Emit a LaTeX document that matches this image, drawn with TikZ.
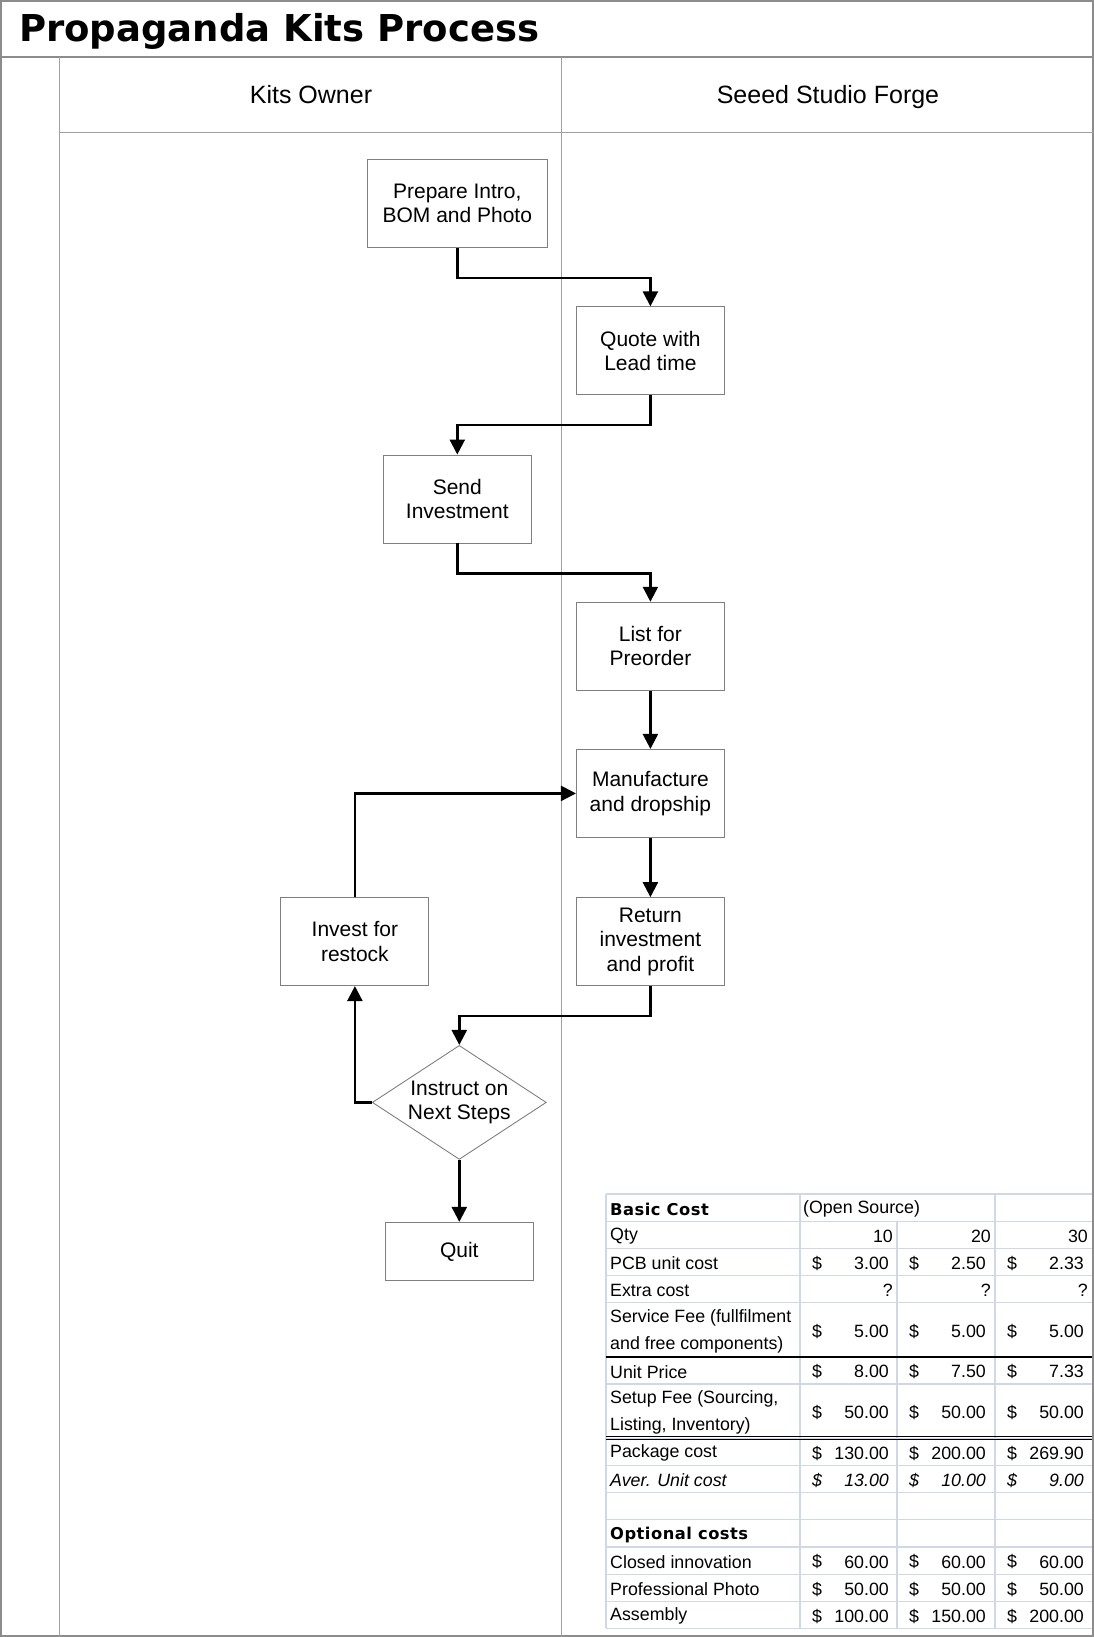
\documentclass[tikz,border=0pt]{standalone}
\usepackage{fontspec}
\setmainfont{Liberation Sans}
\newfontfamily\headfont{DejaVu Sans}
\newfontfamily\cellbold{DejaVu Sans Bold}[LetterSpace=3]
\usetikzlibrary{positioning, shapes.geometric, arrows.meta}

\definecolor{framegray}{HTML}{8C8C8C}
\definecolor{lanegray}{HTML}{A0A0A0}
\definecolor{boxgray}{HTML}{7F7F7F}
\definecolor{gridblue}{HTML}{D0D7E5}

\tikzset{
    stepbox/.style={draw=boxgray, rectangle, line width=0.9pt, minimum width=148pt, minimum height=88pt,
        inner sep=0pt, align=center, font=\fontsize{21}{24.5}\selectfont},
    flow/.style={-{Triangle[length=15pt, width=15pt]}, line width=2.4pt},
    lanehead/.style={inner sep=0pt, anchor=base, font=\fontsize{25}{28}\selectfont},
    cell/.style={inner sep=0pt, font=\fontsize{17.8}{20}\selectfont},
    gridline/.style={draw=gridblue, line width=1.2pt}
}

\begin{document}
\begin{tikzpicture}[x=1pt, y=-1pt]
            \useasboundingbox (0,0) rectangle (1094,1637);

            %% Pool and lanes
            \draw[framegray, line width=2pt] (1,1) rectangle (1093,1636);
            \draw[framegray, line width=2pt] (0,57.4) -- (1094,57.4);
            \draw[lanegray, line width=1.4pt] (59.5,57.4) -- (59.5,1637);
            \draw[lanegray, line width=1.4pt] (561.6,57.4) -- (561.6,1637);
            \draw[lanegray, line width=1.4pt] (59.5,132.6) -- (1094,132.6);

            \node[anchor=base west, inner sep=0pt, font=\headfont\bfseries\fontsize{37}{40}\selectfont] (title) at (19,41.5) {Propaganda Kits Process};
            \node[lanehead] (owner) at (311,104) {Kits Owner};
            \node[lanehead] (forge) at (828,104) {Seeed Studio Forge};

            %% Steps
            % Kits owner lane
            \node[stepbox, minimum width=180pt] (prep) at (457.3,203.6) {Prepare Intro,\\BOM and Photo};
            \node[stepbox] (send) at (457.3,499) {Send\\Investment};
            \node[stepbox] (invest) at (354.9,941.6) {Invest for\\restock};
            \node[draw=boxgray, diamond, line width=0.9pt, aspect=1.53, inner sep=0pt, minimum width=174pt, minimum height=114pt,
                align=center, font=\fontsize{21}{24.5}\selectfont] (next) at (459.3,1102.4) {Instruct on\\Next Steps};
            \node[stepbox, minimum height=58.5pt] (quit) at (459.3,1251.6) {Quit};

            % Forge lane
            \node[stepbox] (quote) at (650.4,350.8) {Quote with\\Lead time};
            \node[stepbox] (list) at (650.4,646.2) {List for\\Preorder};
            \node[stepbox] (make) at (650.4,793.4) {Manufacture\\and dropship};
            \node[stepbox] (ret) at (650.4,941.6) {Return\\investment\\and profit};

            %% Connections
            \draw[flow] (prep.south) -- ++(0,30) -| (quote.north);
            \draw[flow] (quote.south) -- ++(0,30) -| (send.north);
            \draw[flow] (send.south) -- ++(0,30) -| (list.north);
            \draw[flow] (list) -- (make);
            \draw[flow] (make) -- (ret);
            \draw[flow] (ret.south) -- ++(0,30) -| (next.north);
            \draw[flow] (next.west) -| (invest.south);
            \draw[flow] (invest.north) |- (make.west);
            \draw[flow] (next) -- (quit);

            %% Cost table
            % grid
            \foreach \k in {0,1,2,3,4,6,7,9,10,11,12,13,14,15,16}
                \draw[gridline] (606,{1194+\k*27.15}) -- (1092,{1194+\k*27.15});
            \foreach \x in {606,800,995}
                \draw[gridline] (\x,1194) -- (\x,{1194+16*27.15});
            \draw[gridline] (897,{1194+27.15}) -- (897,{1194+16*27.15});
            \draw[line width=1.3pt] (606,{1194+6*27.15}) -- (1092,{1194+6*27.15});
            \draw[line width=1pt] (606,{1194+9*27.15-1.6}) -- (1092,{1194+9*27.15-1.6});
            \draw[line width=1pt] (606,{1194+9*27.15+1.6}) -- (1092,{1194+9*27.15+1.6});

            % row labels
            \foreach \r/\lbl [count=\n] in {1/Qty, 2/PCB unit cost, 3/Extra cost, 4/Service Fee (fullfilment,
                5/and free components), 6/Unit Price, 7/{Setup Fee (Sourcing,}, 8/{Listing, Inventory)},
                9/Package cost, 13/Closed innovation, 14/Professional Photo, 15/Assembly}
                \node[cell, anchor=west] (lbl-\n) at (610,{1194+(\r+0.55)*27.15}) {\lbl};
            \node[cell, anchor=west, font=\cellbold\fontsize{16.3}{20}\selectfont] (basic) at (610,{1194+0.55*27.15}) {Basic Cost};
            \node[cell, anchor=west] (open) at (803,{1194+0.55*27.15}) {(Open Source)};
            \node[cell, anchor=west, font=\itshape\fontsize{17.8}{20}\selectfont] (aver) at (610,{1194+10.55*27.15}) {Aver. Unit cost};
            \node[cell, anchor=west, font=\cellbold\fontsize{16.3}{20}\selectfont] (optional) at (610,{1194+12.55*27.15}) {Optional costs};

            % plain values
            \foreach \x/\q/\e [count=\n] in {893/10/?, 991/20/?, 1088/30/?} {
                \node[cell, anchor=east] (qty-\n) at (\x,{1194+1.55*27.15}) {\q};
                \node[cell, anchor=east] (extra-\n) at (\x,{1194+3.55*27.15}) {\e};
            }

            % money values
            \foreach \r/\a/\b/\c [count=\m] in {2.55/3.00/2.50/2.33, 5.05/5.00/5.00/5.00, 6.55/8.00/7.50/7.33,
                8.05/50.00/50.00/50.00, 9.55/130.00/200.00/269.90, 13.55/60.00/60.00/60.00,
                14.55/50.00/50.00/50.00, 15.55/100.00/150.00/200.00}
                \foreach \x/\v [count=\n] in {800/\a, 897/\b, 995/\c} {
                    \node[cell, anchor=west] (cur-\m-\n) at (\x+12,{1194+\r*27.15}) {\$};
                    \node[cell, anchor=east] (val-\m-\n) at (\x+89,{1194+\r*27.15}) {\v};
                }
            \foreach \x/\v [count=\n] in {800/13.00, 897/10.00, 995/9.00} {
                \node[cell, anchor=west, font=\itshape\fontsize{17.8}{20}\selectfont] (avcur-\n) at (\x+12,{1194+10.55*27.15}) {\$};
                \node[cell, anchor=east, font=\itshape\fontsize{17.8}{20}\selectfont] (avval-\n) at (\x+89,{1194+10.55*27.15}) {\v};
            }

        \end{tikzpicture}
\end{document}
